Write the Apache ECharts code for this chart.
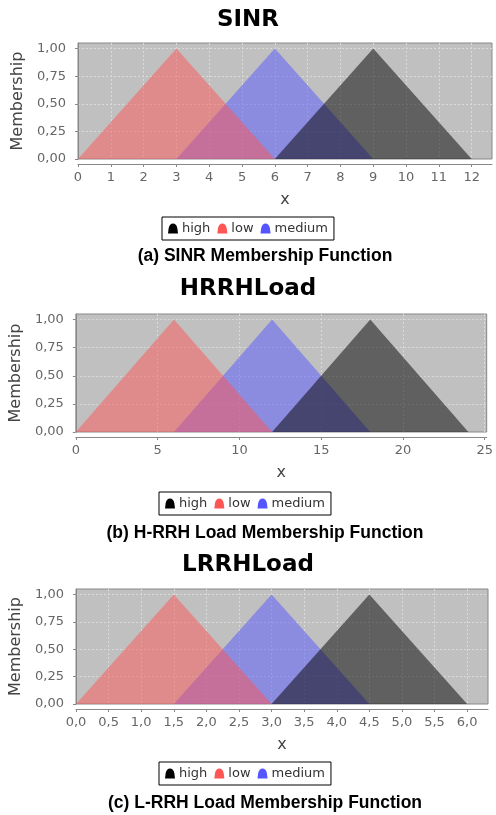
<!DOCTYPE html>
<html>
<head>
<meta charset="utf-8">
<script src="https://cdn.jsdelivr.net/npm/echarts@6/dist/echarts.min.js"></script>
<style>
html,body{margin:0;padding:0;background:#fff;}
#chart{width:496px;height:815px;}
</style>
</head>
<body>
<div id="chart"></div>
<script>
// ---- Data (breakpoints of triangular membership functions) ----
const seriesNames = ['high', 'low', 'medium'];

const sinrLow    = [[0, 0], [3, 1], [6, 0]];
const sinrMedium = [[3, 0], [6, 1], [9, 0]];
const sinrHigh   = [[6, 0], [9, 1], [12, 0]];

const hrrhLow    = [[0, 0], [6, 1], [12, 0]];
const hrrhMedium = [[6, 0], [12, 1], [18, 0]];
const hrrhHigh   = [[12, 0], [18, 1], [24, 0]];

const lrrhLow    = [[0, 0], [1.5, 1], [3, 0]];
const lrrhMedium = [[1.5, 0], [3, 1], [4.5, 0]];
const lrrhHigh   = [[3, 0], [4.5, 1], [6, 0]];

const panelTitles = ['SINR', 'HRRHLoad', 'LRRHLoad'];
const captions = ['(a) SINR Membership Function', '(b) H-RRH Load Membership Function', '(c) L-RRH Load Membership Function'];
const xMax = [12.62, 25.12, 6.32];
const xInterval = [1, 5, 0.5];
const xDecimals = [0, 0, 1];
const yMax = 1.05;
const yInterval = 0.25;

// ---- Layout ----
const grids = [
  {left: 78, top: 43, width: 414, height: 116},
  {left: 75, top: 314, width: 414, height: 118},
  {left: 76, top: 589, width: 412, height: 115}
];
const titleY = [20, 289, 565];
const captionY = [256.5, 533, 803.5];
const legendPos = [{left: 162, top: 217}, {left: 159, top: 492}, {left: 159, top: 762}];

const colors = {high: '#000000', low: '#ff5555', medium: '#5555ff'};
const dataSets = [
  {high: sinrHigh, low: sinrLow, medium: sinrMedium},
  {high: hrrhHigh, low: hrrhLow, medium: hrrhMedium},
  {high: lrrhHigh, low: lrrhLow, medium: lrrhMedium}
];

const comma = (v, d) => v.toFixed(d).replace('.', ',');
const iconPath = 'path://M0,10 L0.6,5 C1.5,-1.5 8.5,-1.5 9.4,5 L10,10 Z';

const option = {
  backgroundColor: '#ffffff',
  animation: false,
  title: [],
  legend: [],
  grid: [],
  xAxis: [],
  yAxis: [],
  series: []
};

for (let i = 0; i < 3; i++) {
  option.title.push({
    text: panelTitles[i], left: 248, top: titleY[i], padding: 0,
    textAlign: 'center', textVerticalAlign: 'middle',
    textStyle: {fontFamily: 'DejaVu Sans', fontWeight: 'bold', fontSize: 23, color: '#000'}
  });
  option.title.push({
    text: captions[i], left: 265, top: captionY[i], padding: 0,
    textAlign: 'center', textVerticalAlign: 'middle',
    textStyle: {fontFamily: 'Liberation Sans', fontWeight: 'bold', fontSize: 17.5, color: '#000'}
  });
  option.grid.push(Object.assign({
    show: true, backgroundColor: '#c0c0c0', borderColor: '#888888', borderWidth: 1, containLabel: false
  }, grids[i]));
  option.xAxis.push({
    type: 'value', gridIndex: i, min: 0, max: xMax[i], interval: xInterval[i],
    offset: 5,
    name: 'x', nameLocation: 'middle', nameGap: 28,
    nameTextStyle: {fontFamily: 'DejaVu Sans', fontSize: 16, color: '#444'},
    axisLine: {show: true, onZero: false, lineStyle: {color: '#888', width: 1}},
    axisTick: {show: true, length: 3, lineStyle: {color: '#888'}},
    axisLabel: {
      margin: 7, showMaxLabel: false, color: '#666', fontFamily: 'DejaVu Sans', fontSize: 13,
      formatter: (v) => comma(v, xDecimals[i])
    },
    splitLine: {show: true, showMinLine: false, showMaxLine: false,
      lineStyle: {color: '#dadada', type: [2, 2], width: 1}}
  });
  option.yAxis.push({
    type: 'value', gridIndex: i, min: 0, max: yMax, interval: yInterval,
    offset: 5,
    name: 'Membership', nameLocation: 'middle', nameGap: 45,
    nameTextStyle: {fontFamily: 'DejaVu Sans', fontSize: 16, color: '#444'},
    axisLine: {show: true, lineStyle: {color: '#888', width: 1}},
    axisTick: {show: true, length: 3, lineStyle: {color: '#888'}},
    axisLabel: {
      margin: 7, showMaxLabel: false, color: '#666', fontFamily: 'DejaVu Sans', fontSize: 13,
      formatter: (v) => comma(v, 2)
    },
    splitLine: {show: true, showMinLine: false, showMaxLine: false,
      lineStyle: {color: '#dadada', type: [2, 2], width: 1}}
  });
  option.legend.push({
    left: legendPos[i].left, top: legendPos[i].top,
    orient: 'horizontal',
    borderColor: '#000', borderWidth: 1, backgroundColor: '#fff',
    padding: [5, 6, 5, 6],
    itemWidth: 10, itemHeight: 10, itemGap: 7,
    textStyle: {fontFamily: 'DejaVu Sans', fontSize: 13, color: '#333', padding: [0, 0, 0, -1]},
    selectedMode: false,
    data: seriesNames.map(n => ({name: n, icon: iconPath, itemStyle: {color: colors[n], opacity: 1}}))
  });
  // draw order: medium (bottom), low, high (top)
  ['medium', 'low', 'high'].forEach(n => {
    option.series.push({
      name: n, type: 'line', xAxisIndex: i, yAxisIndex: i,
      data: dataSets[i][n],
      showSymbol: false, symbol: 'none',
      color: colors[n],
      lineStyle: {width: 0, opacity: 0},
      areaStyle: {color: colors[n], opacity: 0.5},
      silent: true
    });
  });
}

const chart = echarts.init(document.getElementById('chart'), null, {renderer: 'canvas'});
chart.setOption(option);
</script>
</body>
</html>
